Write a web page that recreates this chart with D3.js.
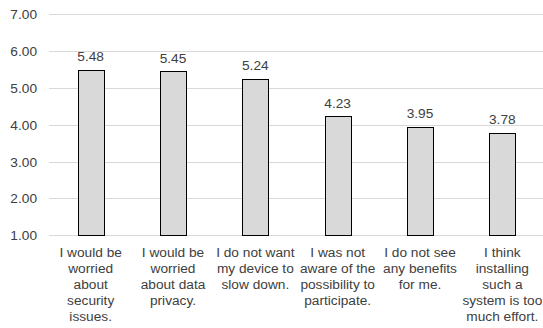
<!DOCTYPE html>
<html>
<head>
<meta charset="utf-8">
<script src="https://cdn.jsdelivr.net/npm/d3@7"></script>
<style>
  html, body { margin: 0; padding: 0; background: #fff; }
  svg { display: block; }
  text { font-family: Arial, "Liberation Sans", sans-serif; fill: #404040; }
</style>
</head>
<body>
<svg id="chart" width="543" height="328"></svg>
<script>
// Reasons for not taking part, mean agreement per statement
const categoryLines = [
  ["I would be", "worried", "about", "security", "issues."],
  ["I would be", "worried", "about data", "privacy."],
  ["I do not want", "my device to", "slow down."],
  ["I was not", "aware of the", "possibility to", "participate."],
  ["I do not see", "any benefits", "for me."],
  ["I think", "installing", "such a", "system is too", "much effort."]
];
const values = [5.48, 5.45, 5.24, 4.23, 3.95, 3.78];
const yTicks = [1, 2, 3, 4, 5, 6, 7];

const svg = d3.select("#chart");
const fontSize = 13.7;

const x = d3.scaleBand()
  .domain(d3.range(values.length))
  .range([49.5, 543.5])
  .paddingInner(0.684)
  .paddingOuter(0.342);

const y = d3.scaleLinear()
  .domain([1, 7])
  .range([235.3, 14.3]);

// horizontal gridlines
svg.append("g")
  .selectAll("line")
  .data(yTicks)
  .join("line")
  .attr("x1", 49)
  .attr("x2", 543)
  .attr("y1", d => Math.round(y(d)) + 0.5)
  .attr("y2", d => Math.round(y(d)) + 0.5)
  .attr("stroke", "#d9d9d9")
  .attr("stroke-width", 1);

// y-axis tick labels
const yAxis = d3.axisLeft(y)
  .tickValues(yTicks)
  .tickFormat(d3.format(".2f"))
  .tickSize(0)
  .tickPadding(0);

svg.append("g")
  .attr("transform", "translate(37,0)")
  .call(yAxis)
  .call(g => g.select(".domain").remove())
  .call(g => g.selectAll("text")
    .attr("font-size", fontSize)
    .attr("font-family", "Arial, 'Liberation Sans', sans-serif")
    .attr("fill", "#404040"));

// bars
svg.append("g")
  .selectAll("rect")
  .data(values)
  .join("rect")
  .attr("x", (d, i) => Math.round(x(i)) + 0.5)
  .attr("y", d => Math.round(y(d)) + 0.5)
  .attr("width", Math.round(x.bandwidth()))
  .attr("height", d => Math.round(y(1)) - Math.round(y(d)))
  .attr("fill", "#d9d9d9")
  .attr("stroke", "#000")
  .attr("stroke-width", 1);

// value labels above bars
svg.append("g")
  .selectAll("text")
  .data(values)
  .join("text")
  .attr("x", (d, i) => x(i) + x.bandwidth() / 2)
  .attr("y", d => y(d) - 8.8)
  .attr("text-anchor", "middle")
  .attr("font-size", fontSize)
  .text(d => d3.format(".2f")(d));

// category labels, one tspan per line
const cat = svg.append("g")
  .selectAll("text")
  .data(categoryLines)
  .join("text")
  .attr("text-anchor", "middle")
  .attr("font-size", fontSize)
  .attr("transform", (d, i) => `translate(${x(i) + x.bandwidth() / 2},257)`);

cat.selectAll("tspan")
  .data(d => d)
  .join("tspan")
  .attr("x", 0)
  .attr("y", (d, j) => j * 16)
  .text(d => d);
</script>
</body>
</html>
